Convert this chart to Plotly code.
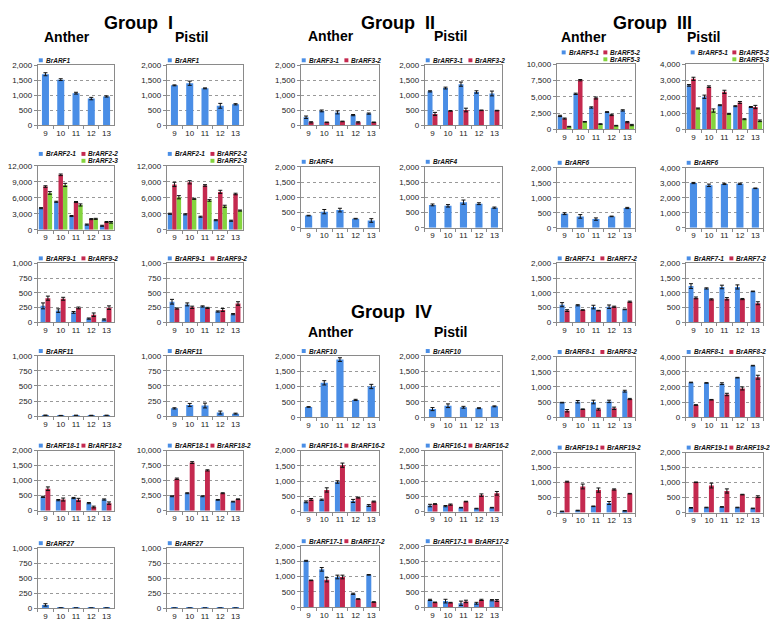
import plotly.graph_objects as go

# page body has an 8px margin, so the figure is drawn 8px in from the top-left
PAGE_W, PAGE_H, OFF = 778, 628, 8
W, H = PAGE_W - OFF, PAGE_H - OFF
stages = ['9', '10', '11', '12', '13']
BLUE, RED, GREEN = '#4a8ee6', '#c4294f', '#84d43e'

# ---------------- data ----------------
# Group I
a_ARF1 = [1700, 1520, 1070, 890, 960];  a_ARF1_e = [50, 30, 30, 40, 20]
p_ARF1 = [1330, 1400, 1230, 650, 700];  p_ARF1_e = [15, 70, 15, 80, 20]
a_ARF2_1 = [4050, 5250, 2580, 980, 750];     a_ARF2_1e = [100, 100, 100, 100, 100]
a_ARF2_2 = [8100, 10300, 5200, 2000, 1450];  a_ARF2_2e = [150, 150, 100, 100, 100]
a_ARF2_3 = [6900, 8400, 4650, 2050, 1400];   a_ARF2_3e = [250, 300, 200, 100, 150]
p_ARF2_1 = [3000, 2900, 2450, 1800, 1700];   p_ARF2_1e = [100, 100, 100, 100, 100]
p_ARF2_2 = [8500, 8900, 8300, 7100, 6700];   p_ARF2_2e = [400, 300, 150, 300, 150]
p_ARF2_3 = [6100, 5800, 5500, 4400, 3600];   p_ARF2_3e = [300, 100, 150, 200, 100]
a_ARF9_1 = [280, 200, 170, 65, 50];    a_ARF9_1e = [50, 30, 15, 10, 10]
a_ARF9_2 = [410, 400, 245, 130, 250];  a_ARF9_2e = [35, 25, 15, 30, 30]
p_ARF9_1 = [350, 305, 270, 185, 140];  p_ARF9_1e = [40, 25, 10, 10, 10]
p_ARF9_2 = [235, 255, 245, 210, 320];  p_ARF9_2e = [10, 20, 10, 25, 30]
a_ARF11 = [12, 8, 10, 10, 10];         a_ARF11_e = [5, 3, 5, 3, 5]
p_ARF11 = [128, 185, 175, 58, 40];     p_ARF11_e = [10, 25, 40, 25, 8]
a_ARF18_1 = [460, 350, 420, 250, 370];   a_ARF18_1e = [20, 20, 20, 20, 20]
a_ARF18_2 = [730, 370, 360, 120, 250];   a_ARF18_2e = [60, 50, 50, 30, 40]
p_ARF18_1 = [2400, 2900, 2400, 1800, 1500];  p_ARF18_1e = [80, 80, 80, 60, 60]
p_ARF18_2 = [5300, 8000, 6700, 2900, 1900];  p_ARF18_2e = [120, 150, 100, 80, 60]
a_ARF27 = [55, 4, 3, 3, 3];  a_ARF27_e = [20, 1, 1, 1, 1]
p_ARF27 = [2, 2, 2, 2, 2];   p_ARF27_e = [1, 1, 1, 1, 1]
# Group II
a_ARF3_1 = [270, 480, 430, 340, 390];     a_ARF3_1e = [40, 30, 50, 20, 20]
a_ARF3_2 = [100, 100, 130, 100, 100];     a_ARF3_2e = [20, 10, 10, 20, 10]
p_ARF3_1 = [1130, 1240, 1370, 1110, 1060];  p_ARF3_1e = [20, 30, 70, 40, 80]
p_ARF3_2 = [380, 480, 510, 500, 490];     p_ARF3_2e = [50, 10, 60, 10, 10]
a_ARF4 = [400, 530, 580, 300, 240];  a_ARF4_e = [10, 70, 60, 10, 60]
p_ARF4 = [750, 720, 840, 790, 660];  p_ARF4_e = [30, 40, 70, 30, 20]
# Group IV
a_ARF10 = [330, 1120, 1880, 560, 1000];  a_ARF10_e = [10, 70, 60, 20, 70]
p_ARF10 = [260, 370, 320, 290, 350];     p_ARF10_e = [50, 60, 30, 15, 15]
a_ARF16_1 = [320, 390, 970, 350, 200];   a_ARF16_1e = [30, 20, 40, 50, 30]
a_ARF16_2 = [400, 710, 1520, 460, 330];  a_ARF16_2e = [30, 70, 70, 15, 15]
p_ARF16_1 = [200, 180, 130, 100, 130];   p_ARF16_1e = [40, 20, 10, 10, 10]
p_ARF16_2 = [250, 230, 330, 540, 600];   p_ARF16_2e = [10, 20, 10, 40, 60]
a_ARF17_1 = [1520, 1240, 990, 440, 1060];  a_ARF17_1e = [15, 60, 60, 20, 10]
a_ARF17_2 = [880, 900, 990, 270, 170];     a_ARF17_2e = [10, 70, 60, 10, 10]
p_ARF17_1 = [240, 200, 130, 130, 230];   p_ARF17_1e = [20, 60, 70, 30, 20]
p_ARF17_2 = [160, 150, 190, 240, 220];   p_ARF17_2e = [10, 10, 40, 20, 30]
# Group III
a_ARF5_1 = [2050, 5450, 3350, 2650, 2900];  a_ARF5_1e = [100, 100, 100, 60, 100]
a_ARF5_2 = [1650, 7550, 4800, 2200, 1100];  a_ARF5_2e = [80, 100, 150, 100, 100]
a_ARF5_3 = [400, 1150, 800, 550, 650];      a_ARF5_3e = [50, 50, 50, 50, 100]
p_ARF5_1 = [2700, 2000, 1480, 1420, 1370];  p_ARF5_1e = [50, 100, 30, 30, 30]
p_ARF5_2 = [3100, 2620, 2300, 1650, 1370];  p_ARF5_2e = [100, 50, 100, 60, 100]
p_ARF5_3 = [1280, 1150, 950, 620, 520];     p_ARF5_3e = [30, 100, 30, 30, 50]
a_ARF6 = [470, 380, 290, 380, 660];       a_ARF6_e = [30, 60, 40, 10, 20]
p_ARF6 = [2980, 2830, 2920, 2930, 2630];  p_ARF6_e = [40, 80, 40, 40, 20]
a_ARF7_1 = [600, 580, 520, 530, 440];     a_ARF7_1e = [70, 20, 60, 60, 10]
a_ARF7_2 = [400, 420, 400, 530, 700];     a_ARF7_2e = [30, 10, 10, 20, 20]
p_ARF7_1 = [1230, 1150, 1200, 1200, 1050];  p_ARF7_1e = [80, 20, 60, 70, 10]
p_ARF7_2 = [830, 780, 800, 790, 650];     p_ARF7_2e = [30, 20, 40, 20, 50]
a_ARF8_1 = [480, 510, 500, 520, 860];     a_ARF8_1e = [10, 40, 60, 40, 30]
a_ARF8_2 = [210, 260, 260, 290, 600];     a_ARF8_2e = [40, 10, 30, 40, 20]
p_ARF8_1 = [2300, 2270, 2220, 2620, 3420];  p_ARF8_1e = [20, 20, 60, 20, 20]
p_ARF8_2 = [800, 1150, 1500, 1900, 2650];   p_ARF8_2e = [20, 20, 80, 100, 130]
a_ARF19_1 = [40, 70, 210, 320, 60];       a_ARF19_1e = [10, 10, 10, 50, 10]
a_ARF19_2 = [1030, 870, 750, 770, 630];   a_ARF19_2e = [15, 80, 70, 20, 10]
p_ARF19_1 = [160, 170, 190, 170, 140];    p_ARF19_1e = [10, 10, 10, 10, 10]
p_ARF19_2 = [1010, 900, 720, 600, 530];   p_ARF19_2e = [10, 80, 70, 10, 30]

# ---------------- layout geometry (page pixels) ----------------
COLS = {'G1a': (32, 109), 'G1p': (162, 239), 'G2a': (297, 376), 'G2p': (422, 500),
        'G3a': (555, 634), 'G3p': (685, 763)}

panels = [
    ('G1a', 62, 123, 2000, [('BrARF1', a_ARF1, a_ARF1_e)]),
    ('G1p', 62, 123, 2000, [('BrARF1', p_ARF1, p_ARF1_e)]),
    ('G1a', 164, 229, 12000, [('BrARF2-1', a_ARF2_1, a_ARF2_1e), ('BrARF2-2', a_ARF2_2, a_ARF2_2e), ('BrARF2-3', a_ARF2_3, a_ARF2_3e)]),
    ('G1p', 164, 229, 12000, [('BrARF2-1', p_ARF2_1, p_ARF2_1e), ('BrARF2-2', p_ARF2_2, p_ARF2_2e), ('BrARF2-3', p_ARF2_3, p_ARF2_3e)]),
    ('G1a', 263, 323, 1000, [('BrARF9-1', a_ARF9_1, a_ARF9_1e), ('BrARF9-2', a_ARF9_2, a_ARF9_2e)]),
    ('G1p', 263, 323, 1000, [('BrARF9-1', p_ARF9_1, p_ARF9_1e), ('BrARF9-2', p_ARF9_2, p_ARF9_2e)]),
    ('G1a', 357, 418, 1000, [('BrARF11', a_ARF11, a_ARF11_e)]),
    ('G1p', 357, 418, 1000, [('BrARF11', p_ARF11, p_ARF11_e)]),
    ('G1a', 453, 514, 2000, [('BrARF18-1', a_ARF18_1, a_ARF18_1e), ('BrARF18-2', a_ARF18_2, a_ARF18_2e)]),
    ('G1p', 453, 514, 10000, [('BrARF18-1', p_ARF18_1, p_ARF18_1e), ('BrARF18-2', p_ARF18_2, p_ARF18_2e)]),
    ('G1a', 552, 613, 1000, [('BrARF27', a_ARF27, a_ARF27_e)]),
    ('G1p', 552, 613, 1000, [('BrARF27', p_ARF27, p_ARF27_e)]),
    ('G2a', 62, 123, 2000, [('BrARF3-1', a_ARF3_1, a_ARF3_1e), ('BrARF3-2', a_ARF3_2, a_ARF3_2e)]),
    ('G2p', 62, 123, 2000, [('BrARF3-1', p_ARF3_1, p_ARF3_1e), ('BrARF3-2', p_ARF3_2, p_ARF3_2e)]),
    ('G2a', 165, 227, 2000, [('BrARF4', a_ARF4, a_ARF4_e)]),
    ('G2p', 165, 227, 2000, [('BrARF4', p_ARF4, p_ARF4_e)]),
    ('G2a', 357, 419, 2000, [('BrARF10', a_ARF10, a_ARF10_e)]),
    ('G2p', 357, 419, 2000, [('BrARF10', p_ARF10, p_ARF10_e)]),
    ('G2a', 453, 515, 2000, [('BrARF16-1', a_ARF16_1, a_ARF16_1e), ('BrARF16-2', a_ARF16_2, a_ARF16_2e)]),
    ('G2p', 453, 515, 2000, [('BrARF16-1', p_ARF16_1, p_ARF16_1e), ('BrARF16-2', p_ARF16_2, p_ARF16_2e)]),
    ('G2a', 550, 612, 2000, [('BrARF17-1', a_ARF17_1, a_ARF17_1e), ('BrARF17-2', a_ARF17_2, a_ARF17_2e)]),
    ('G2p', 550, 612, 2000, [('BrARF17-1', p_ARF17_1, p_ARF17_1e), ('BrARF17-2', p_ARF17_2, p_ARF17_2e)]),
    ('G3a', 61, 127, 10000, [('BrARF5-1', a_ARF5_1, a_ARF5_1e), ('BrARF5-2', a_ARF5_2, a_ARF5_2e), ('BrARF5-3', a_ARF5_3, a_ARF5_3e)]),
    ('G3p', 61, 127, 4000, [('BrARF5-1', p_ARF5_1, p_ARF5_1e), ('BrARF5-2', p_ARF5_2, p_ARF5_2e), ('BrARF5-3', p_ARF5_3, p_ARF5_3e)]),
    ('G3a', 166, 227, 2000, [('BrARF6', a_ARF6, a_ARF6_e)]),
    ('G3p', 166, 227, 4000, [('BrARF6', p_ARF6, p_ARF6_e)]),
    ('G3a', 263, 323, 2000, [('BrARF7-1', a_ARF7_1, a_ARF7_1e), ('BrARF7-2', a_ARF7_2, a_ARF7_2e)]),
    ('G3p', 263, 323, 2000, [('BrARF7-1', p_ARF7_1, p_ARF7_1e), ('BrARF7-2', p_ARF7_2, p_ARF7_2e)]),
    ('G3a', 358, 419, 2000, [('BrARF8-1', a_ARF8_1, a_ARF8_1e), ('BrARF8-2', a_ARF8_2, a_ARF8_2e)]),
    ('G3p', 358, 419, 4000, [('BrARF8-1', p_ARF8_1, p_ARF8_1e), ('BrARF8-2', p_ARF8_2, p_ARF8_2e)]),
    ('G3a', 455, 516, 2000, [('BrARF19-1', a_ARF19_1, a_ARF19_1e), ('BrARF19-2', a_ARF19_2, a_ARF19_2e)]),
    ('G3p', 455, 516, 2000, [('BrARF19-1', p_ARF19_1, p_ARF19_1e), ('BrARF19-2', p_ARF19_2, p_ARF19_2e)]),
]

COLORS = [BLUE, RED, GREEN]
FONT = 'Liberation Sans, Arial, sans-serif'

def fx(px):
    return (px - OFF) / W

def fy(py):
    return 1 - (py - OFF) / H

fig = go.Figure()
layout = dict(width=W, height=H, autosize=False, margin=dict(l=0, r=0, t=0, b=0),
              paper_bgcolor='white', plot_bgcolor='white', showlegend=False,
              barmode='overlay', font=dict(family=FONT, size=8, color='#222'))
annotations = []
shapes = []

for i, (col, top, bot, ymax, series) in enumerate(panels, start=1):
    L, R = COLS[col]
    n = len(series)
    if n == 1:
        widths, offs = 0.46, [-0.23]
    elif n == 2:
        widths, offs = 0.32, [-0.32, 0.0]
    else:
        widths, offs = 0.29, [-0.435, -0.145, 0.145]
    xa = 'x' if i == 1 else f'x{i}'
    ya = 'y' if i == 1 else f'y{i}'
    for k, (name, vals, errs) in enumerate(series):
        fig.add_trace(go.Bar(
            x=stages, y=vals, name=name, xaxis=xa, yaxis=ya,
            width=widths, offset=offs[k], marker=dict(color=COLORS[k], line=dict(width=0)),
            error_y=dict(type='data', array=errs, visible=True, color='#111', thickness=1, width=2),
        ))
    ticks = [ymax * j // 4 for j in range(5)]
    key = '' if i == 1 else str(i)
    layout['xaxis' + key] = dict(
        domain=[fx(L), fx(R)], anchor=ya, type='category', range=[-0.5, 4.5],
        showline=True, linecolor='#8a8a8a', linewidth=1, mirror=True,
        ticks='outside', tickson='boundaries', ticklen=3, tickcolor='#8a8a8a',
        tickangle=0, showgrid=False, tickfont=dict(size=8, color='#222'), fixedrange=True)
    layout['yaxis' + key] = dict(
        domain=[fy(bot), fy(top)], anchor=xa, range=[0, ymax],
        tickvals=ticks, ticktext=[f'{t:,}' for t in ticks],
        showline=True, linecolor='#8a8a8a', linewidth=1, mirror=True,
        ticks='outside', ticklen=3, tickcolor='#8a8a8a',
        showgrid=True, gridcolor='#999', griddash='dot', gridwidth=1, zeroline=False,
        tickfont=dict(size=8, color='#222'), fixedrange=True)
    # legend items: small square shape + bold italic text
    if n == 3:
        o1, o2 = (5, 47) if col.startswith('G3') else (1, 44)
        pos = [(L + o1, top - 12), (L + o2, top - 12), (L + o2, top - 5)]
    elif n == 2:
        pos = [(L + 1, top - 5), (L + 44, top - 5)]
    else:
        pos = [(L + 1, top - 5)]
    for k, (name, _, _) in enumerate(series):
        px, py = pos[k]
        shapes.append(dict(type='rect', xref='paper', yref='paper',
                           x0=fx(px), x1=fx(px + 4), y0=fy(py + 2), y1=fy(py - 2),
                           fillcolor=COLORS[k], line=dict(width=0)))
        annotations.append(dict(
            x=fx(px + 6), y=fy(py), xref='paper', yref='paper', xanchor='left', yanchor='middle',
            showarrow=False, text=f"<b><i>{name}</i></b>", borderpad=0,
            font=dict(size=6.5, color='#111', family=FONT)))

titles = [('Group\u00a0\u00a0I', 133, 19, 18), ('Group\u00a0\u00a0II', 395, 19, 18),
          ('Group\u00a0\u00a0III', 652, 19, 18), ('Group\u00a0\u00a0IV', 388, 312, 18),
          ('Anther', 61, 33, 14), ('Pistil', 187, 33, 14),
          ('Anther', 327, 32, 14), ('Pistil', 448, 32, 14),
          ('Anther', 582, 33, 14), ('Pistil', 703, 33, 14),
          ('Anther', 327, 333, 14), ('Pistil', 448, 333, 14)]
for txt, px, py, sz in titles:
    annotations.append(dict(x=fx(px), y=fy(py), xref='paper', yref='paper',
                            xanchor='center', yanchor='middle', showarrow=False, borderpad=0,
                            text=f'<b>{txt}</b>', font=dict(size=sz, color='#000', family=FONT)))

layout['annotations'] = annotations
layout['shapes'] = shapes
fig.update_layout(**layout)
fig.write_html('out.html')
